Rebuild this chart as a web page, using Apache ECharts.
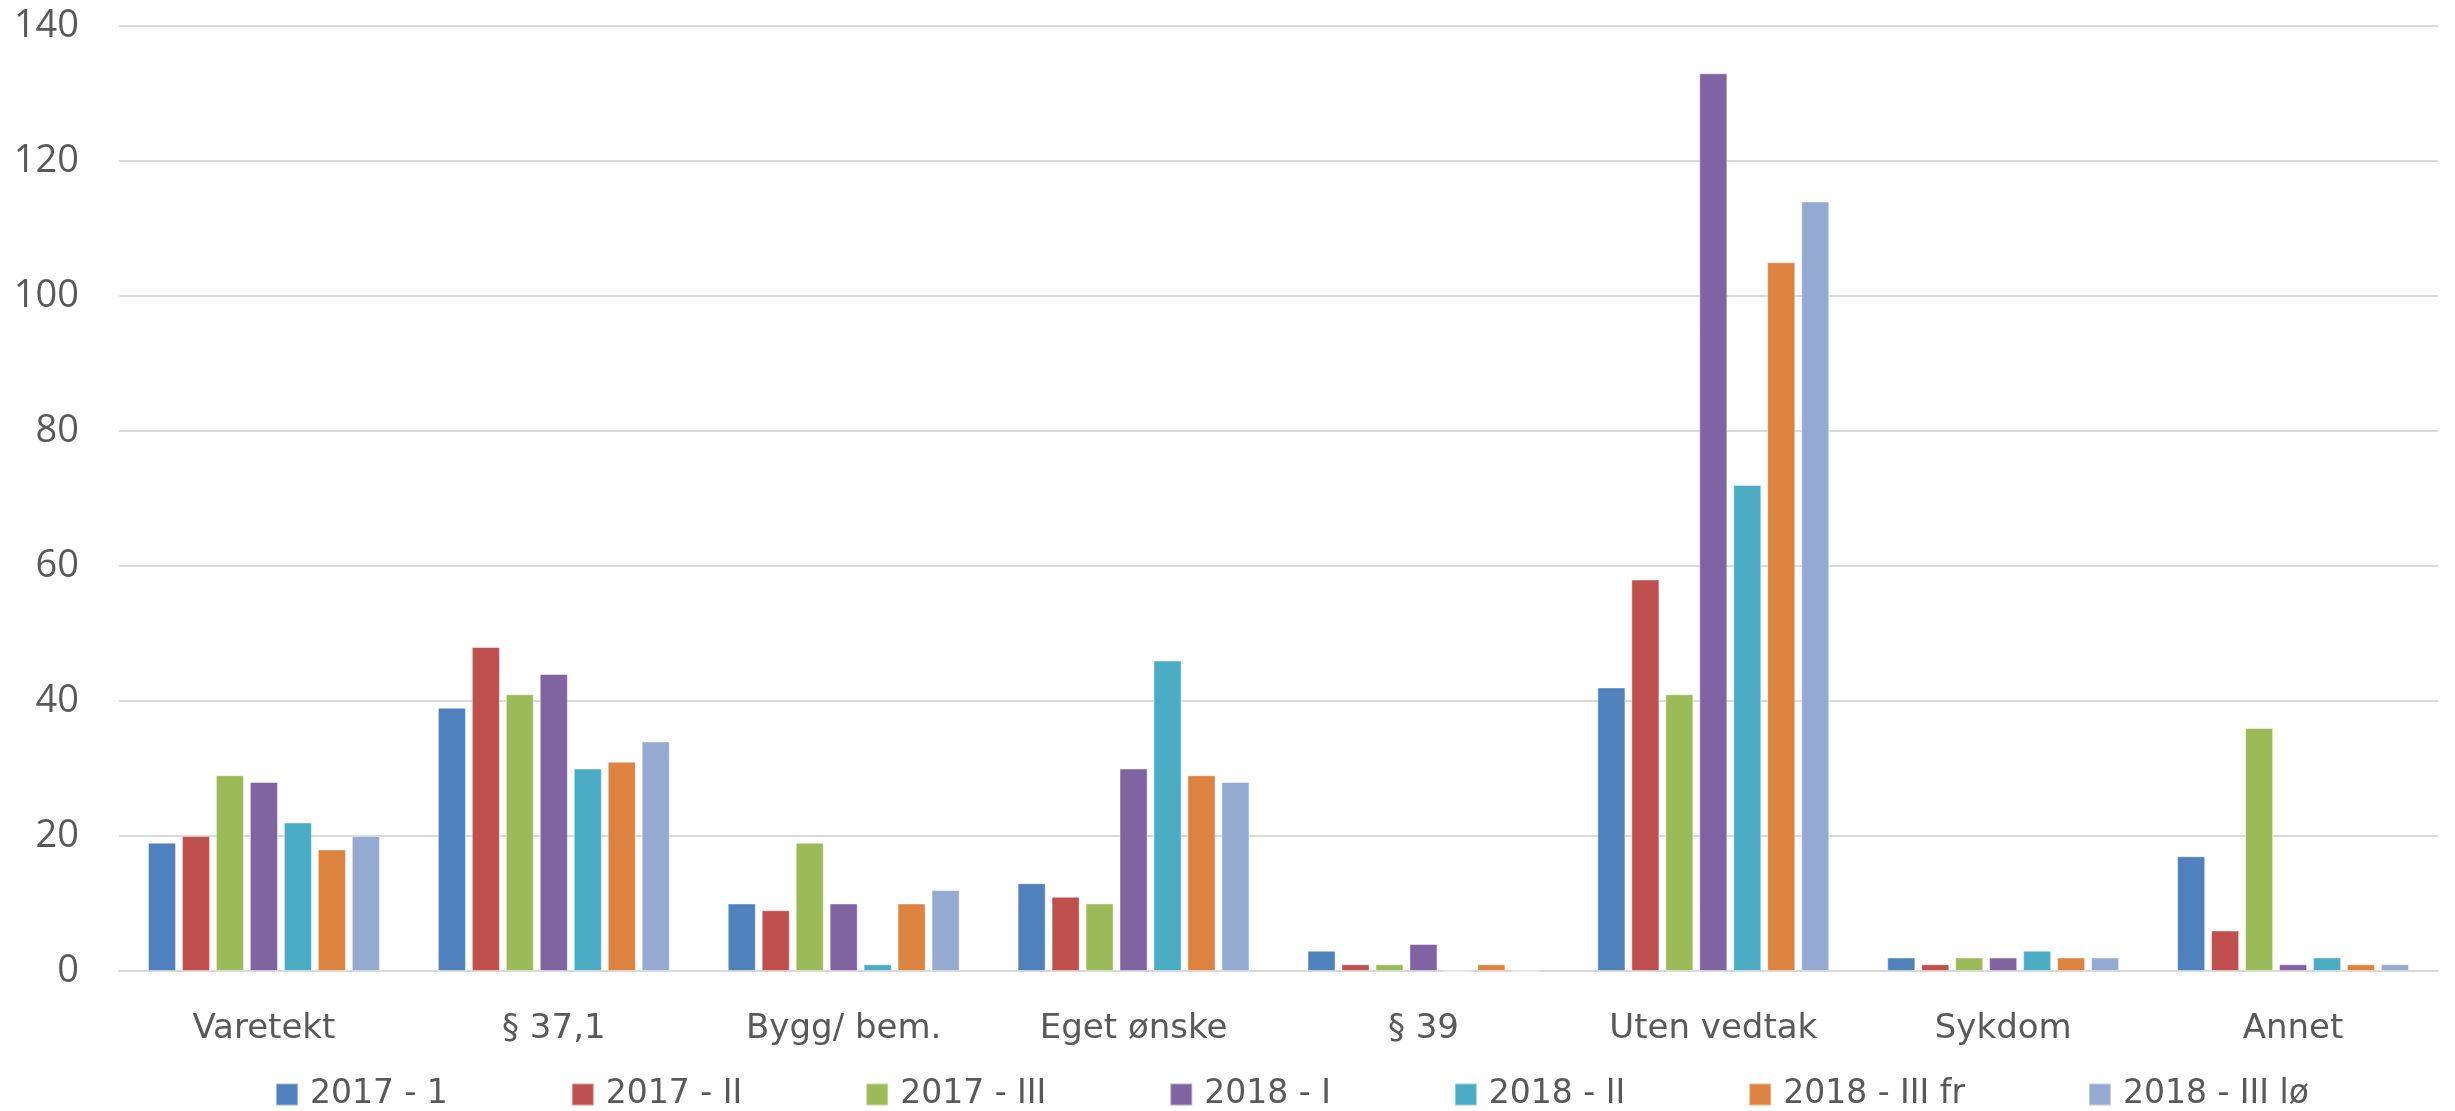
<!DOCTYPE html>
<html>
<head>
<meta charset="utf-8">
<script src="https://cdn.jsdelivr.net/npm/echarts@6/dist/echarts.min.js"></script>
<style>
  html, body { margin: 0; padding: 0; background: #ffffff; }
  #chart { width: 2455px; height: 1111px; }
</style>
</head>
<body>
<div id="chart"></div>
<script>
// Reasons, grouped by category, one bar per period
const categories = ['Varetekt', '§ 37,1', 'Bygg/ bem.', 'Eget ønske', '§ 39', 'Uten vedtak', 'Sykdom', 'Annet'];

const s2017_1   = [19, 39, 10, 13, 3, 42, 2, 17];
const s2017_2   = [20, 48, 9, 11, 1, 58, 1, 6];
const s2017_3   = [29, 41, 19, 10, 1, 41, 2, 36];
const s2018_1   = [28, 44, 10, 30, 4, 133, 2, 1];
const s2018_2   = [22, 30, 1, 46, 0, 72, 3, 2];
const s2018_3fr = [18, 31, 10, 29, 1, 105, 2, 1];
const s2018_3lo = [20, 34, 12, 28, 0, 114, 2, 1];

const seriesNames = ['2017 - 1', '2017 - II', '2017 - III', '2018 - I', '2018 - II', '2018 - III fr', '2018 - III lø'];
const seriesData = [s2017_1, s2017_2, s2017_3, s2018_1, s2018_2, s2018_3fr, s2018_3lo];
const colors = ['#4F81BD', '#C0504D', '#9BBB59', '#8064A2', '#4BACC6', '#DD8340', '#95AAD1'];

const yMin = 0, yMax = 140, yStep = 20;

const font = 'DejaVu Sans';
const numFont = 'Open Sans';
const textColor = '#595959';

const chart = echarts.init(document.getElementById('chart'), null, { renderer: 'canvas' });

chart.setOption({
  animation: false,
  backgroundColor: '#ffffff',
  color: colors,
  grid: { left: 119, right: 17, top: 26, bottom: 140, containLabel: false },
  legend: {
    left: 270,
    top: 1073,
    itemWidth: 22,
    itemHeight: 22,
    itemGap: 123,
    icon: 'rect',
    textStyle: { fontFamily: font, fontSize: 33, color: textColor, padding: [0, 0, 0, 7] },
    data: seriesNames
  },
  xAxis: {
    type: 'category',
    data: categories,
    axisTick: { show: false },
    axisLine: { show: true, lineStyle: { color: '#D9D9D9', width: 2 } },
    axisLabel: { fontFamily: font, fontSize: 34, color: textColor, margin: 41, interval: 0 }
  },
  yAxis: {
    type: 'value',
    min: yMin,
    max: yMax,
    interval: yStep,
    axisLine: { show: false },
    axisTick: { show: false },
    axisLabel: { fontFamily: numFont, fontSize: 38, color: textColor, margin: 40 },
    splitLine: { lineStyle: { color: '#D9D9D9', width: 2 } }
  },
  series: seriesNames.map((name, i) => ({
    name: name,
    type: 'bar',
    data: seriesData[i],
    barGap: '21%',
    barCategoryGap: '20%',
    itemStyle: { color: colors[i], borderColor: 'rgba(255,255,255,0.45)', borderWidth: 1 }
  }))
});
</script>
</body>
</html>
